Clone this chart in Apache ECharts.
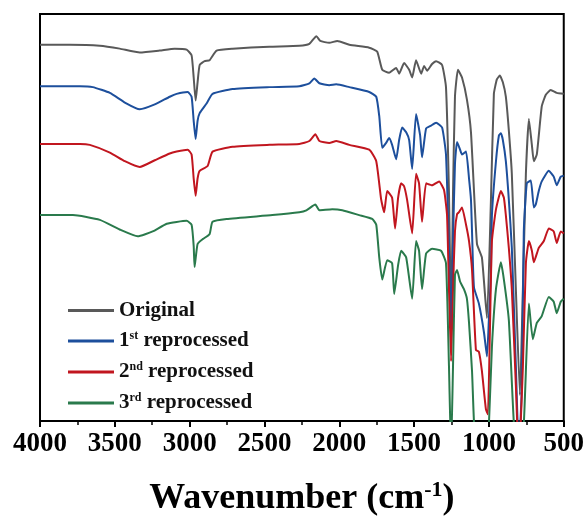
<!DOCTYPE html>
<html>
<head>
<meta charset="utf-8">
<script src="https://cdn.jsdelivr.net/npm/echarts@6/dist/echarts.min.js"></script>
<style>
  html, body { margin: 0; padding: 0; background: #fff; }
  #chart { width: 587px; height: 522px; }
</style>
</head>
<body>
<div id="chart"></div>
<script>
// FTIR spectra, [wavenumber, offset transmittance (a.u.)]
var original = [
  [4000,391],[3800,391],[3600,390],[3467,387],[3333,383],[3200,385],[3100,387],[3020,386],
  [2987,380],[2973,357],[2960,333],[2947,352],[2933,370],[2900,374],[2867,375],[2820,385],
  [2713,387],[2467,389],[2267,390],[2200,392],[2153,400],[2127,395],[2067,393],[2013,395],
  [1933,391],[1800,388],[1747,384],[1713,365],[1667,362],[1620,367],[1600,361],[1567,372],
  [1533,365],[1513,357],[1487,375],[1453,361],[1433,369],[1413,364],[1380,371],[1353,374],
  [1313,370],[1287,347],[1267,237],[1253,107],[1240,237],[1227,337],[1207,365],[1180,357],
  [1147,334],[1120,300],[1080,184],[1047,170],[1013,107],[987,227],[967,340],[947,355],
  [927,359],[907,352],[887,337],[867,302],[847,257],[820,137],[793,27],[773,137],[753,257],
  [733,314],[713,287],[700,270],[680,277],[647,327],[620,339],[587,344],[547,341],[500,340]
];
var reprocessed1 = [
  [4000,348],[3733,348],[3647,347],[3533,341],[3433,331],[3333,324],[3233,329],[3133,337],
  [3087,340],[3013,342],[2987,337],[2973,312],[2960,293],[2947,312],[2933,320],[2887,330],
  [2847,340],[2713,345],[2467,347],[2267,348],[2200,351],[2167,356],[2133,351],[2067,349],
  [2020,350],[1933,347],[1800,342],[1753,337],[1733,317],[1713,284],[1687,289],[1667,294],
  [1647,287],[1620,272],[1600,292],[1580,305],[1553,300],[1533,292],[1513,262],[1487,319],
  [1460,297],[1447,274],[1420,304],[1387,307],[1353,310],[1313,305],[1287,277],[1267,177],
  [1253,87],[1240,187],[1227,267],[1213,290],[1193,282],[1180,277],[1153,280],[1133,252],
  [1120,230],[1113,197],[1100,139],[1067,122],[1033,92],[1013,67],[1000,107],[987,152],
  [980,214],[953,270],[933,297],[920,299],[907,292],[887,270],[867,230],[847,180],[820,57],
  [800,-33],[780,37],[767,197],[747,247],[720,250],[700,222],[687,225],[667,239],[647,249],
  [600,260],[567,254],[547,245],[520,254],[500,255]
];
var reprocessed2 = [
  [4000,288],[3733,288],[3667,287],[3533,279],[3433,270],[3333,264],[3233,271],[3133,278],
  [3087,280],[3013,282],[2987,277],[2973,252],[2960,234],[2947,252],[2933,260],[2880,265],
  [2847,280],[2713,285],[2467,287],[2267,288],[2200,291],[2160,298],[2133,291],[2067,289],
  [2020,291],[1933,287],[1800,282],[1753,270],[1720,230],[1700,217],[1680,239],[1647,232],
  [1627,200],[1607,232],[1587,247],[1567,244],[1547,230],[1513,195],[1487,257],[1467,247],
  [1447,207],[1420,247],[1380,245],[1333,249],[1300,240],[1280,214],[1267,137],[1253,62],
  [1240,137],[1227,197],[1213,215],[1200,217],[1180,222],[1153,204],[1133,187],[1113,157],
  [1087,74],[1067,72],[1047,52],[1020,12],[1007,7],[993,97],[980,187],[953,220],[920,239],
  [900,232],[887,214],[867,180],[847,137],[820,37],[800,-43],[773,57],[753,164],[733,187],
  [713,177],[700,165],[667,180],[633,187],[600,200],[567,197],[547,185],[520,197],[500,195]
];
var reprocessed3 = [
  [4000,214],[3780,214],[3600,209],[3467,199],[3347,192],[3247,197],[3153,205],[3020,208],
  [2987,204],[2973,182],[2967,160],[2947,184],[2913,189],[2867,194],[2847,207],[2753,210],
  [2447,214],[2267,217],[2220,219],[2160,225],[2133,219],[2047,220],[1980,219],[1867,214],
  [1780,210],[1753,204],[1733,170],[1713,147],[1680,167],[1647,164],[1633,132],[1607,162],
  [1587,177],[1553,170],[1513,127],[1487,187],[1467,177],[1447,137],[1420,174],[1380,179],
  [1320,177],[1287,164],[1267,57],[1253,-33],[1240,57],[1227,152],[1213,157],[1193,145],
  [1167,137],[1147,127],[1133,102],[1113,52],[1087,-33],[1020,-43],[1000,-3],[980,77],
  [953,137],[920,165],[900,147],[867,105],[833,-3],[800,-43],[767,-3],[733,122],[707,85],
  [680,102],[647,109],[600,129],[567,124],[547,112],[520,124],[500,127]
];

var names = ['Original', '1st reprocessed', '2nd reprocessed', '3rd reprocessed'];
var colors = ['#595959', '#1d4f9c', '#c1161f', '#2a7a4c'];
var allData = [original, reprocessed1, reprocessed2, reprocessed3];

var serif = '"Times New Roman", "Liberation Serif", serif';

var chart = echarts.init(document.getElementById('chart'));

var series = [];
for (var i = 0; i < names.length; i++) {
  series.push({
    name: names[i],
    type: 'line',
    data: allData[i],
    symbol: 'none',
    smooth: 0.15,
    clip: true,
    lineStyle: { color: colors[i], width: 2 },
    itemStyle: { color: colors[i] }
  });
}

var option = {
  animation: false,
  backgroundColor: '#fff',
  grid: {
    left: 40, right: 22, top: 14, bottom: 85,
    show: true, borderColor: '#000', borderWidth: 2, backgroundColor: 'transparent'
  },
  legend: {
    orient: 'vertical',
    left: 63, top: 295,
    icon: 'rect',
    itemWidth: 46, itemHeight: 3,
    itemGap: 9,
    data: names,
    formatter: function (name) {
      if (name === 'Original') return '{b|Original}';
      var parts = name.split(' ');
      var num = parts[0].charAt(0);
      var suf = parts[0].slice(1);
      return '{b|' + num + '}{s|' + suf + '}{b| ' + parts[1] + '}';
    },
    textStyle: {
      fontFamily: serif, fontWeight: 'bold', fontSize: 21, color: '#111',
      rich: {
        b: { fontFamily: serif, fontWeight: 'bold', fontSize: 21, color: '#111', lineHeight: 22 },
        s: { fontFamily: serif, fontWeight: 'bold', fontSize: 12, color: '#111', padding: [0, 0, 10, 0], lineHeight: 22 }
      }
    }
  },
  xAxis: {
    type: 'value',
    min: 500, max: 4000, interval: 500,
    inverse: true,
    name: '{t|Wavenumber (cm}{s|-1}{t|)}',
    nameLocation: 'middle',
    nameGap: 58,
    nameTextStyle: {
      rich: {
        t: { fontFamily: serif, fontWeight: 'bold', fontSize: 36, color: '#000' },
        s: { fontFamily: serif, fontWeight: 'bold', fontSize: 22, color: '#000', padding: [0, 0, 18, 0] }
      }
    },
    axisLine: { lineStyle: { color: '#000', width: 2 } },
    axisTick: { show: true, inside: false, length: 6, lineStyle: { color: '#000', width: 2 } },
    minorTick: { show: true, splitNumber: 2, length: 4, lineStyle: { color: '#000', width: 1.5 } },
    axisLabel: {
      fontFamily: serif, fontWeight: 'bold', fontSize: 27, color: '#000', margin: 10,
      formatter: function (v) { return String(v); }
    },
    splitLine: { show: false }
  },
  yAxis: {
    type: 'value',
    min: 0, max: 423,
    show: false
  },
  series: series
};

chart.setOption(option);
</script>
</body>
</html>
